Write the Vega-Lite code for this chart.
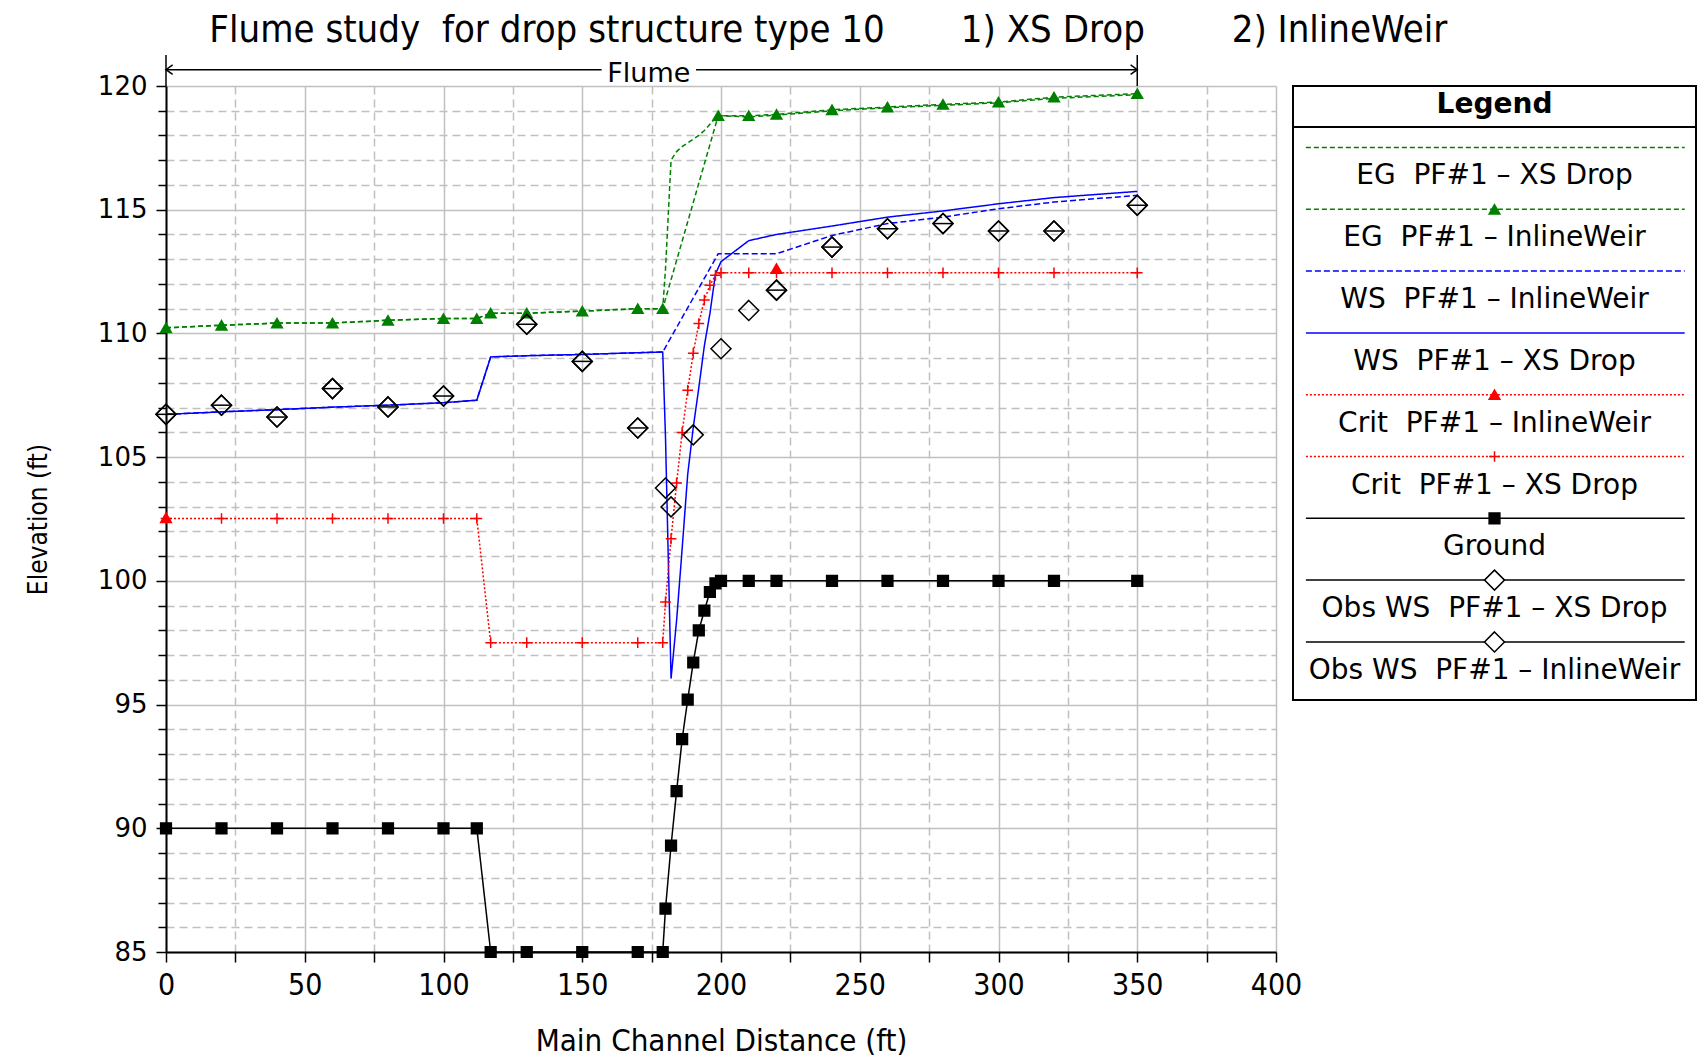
{
"$schema": "https://vega.github.io/schema/vega-lite/v6.json",
"background": "white",
"padding": {"left": 25, "top": 12, "right": 0, "bottom": 0},
"title": {"text": "Flume study\u00a0 for drop structure type 10\u00a0\u00a0\u00a0\u00a0\u00a0\u00a0 1) XS Drop\u00a0\u00a0\u00a0\u00a0\u00a0\u00a0\u00a0 2) InlineWeir", "anchor": "start", "frame": "bounds", "dx": 184, "font": "DejaVu Sans Condensed, Liberation Sans Narrow, DejaVu Sans", "fontSize": 38, "fontWeight": "normal", "color": "black", "offset": 4},
"bounds": "flush",
"spacing": 17,
"resolve": {"scale": {"x": "independent", "y": "independent"}},
"datasets": {
"pts": [
{"s":"GR","x":0,"y":90},{"s":"GR","x":20,"y":90},{"s":"GR","x":40,"y":90},{"s":"GR","x":60,"y":90},{"s":"GR","x":80,"y":90},{"s":"GR","x":100,"y":90},{"s":"GR","x":112,"y":90},{"s":"GR","x":117,"y":85},{"s":"GR","x":130,"y":85},{"s":"GR","x":150,"y":85},{"s":"GR","x":170,"y":85},{"s":"GR","x":179,"y":85},{"s":"GR","x":180,"y":86.75},{"s":"GR","x":182,"y":89.3},{"s":"GR","x":184,"y":91.5},{"s":"GR","x":186,"y":93.6},{"s":"GR","x":188,"y":95.2},{"s":"GR","x":190,"y":96.7},{"s":"GR","x":192,"y":98},{"s":"GR","x":194,"y":98.8},{"s":"GR","x":196,"y":99.55},{"s":"GR","x":198,"y":99.9},{"s":"GR","x":200,"y":100},{"s":"GR","x":210,"y":100},{"s":"GR","x":220,"y":100},{"s":"GR","x":240,"y":100},{"s":"GR","x":260,"y":100},{"s":"GR","x":280,"y":100},{"s":"GR","x":300,"y":100},{"s":"GR","x":320,"y":100},{"s":"GR","x":350,"y":100},
{"s":"WSX","x":0,"y":106.73},{"s":"WSX","x":20,"y":106.83},{"s":"WSX","x":40,"y":106.92},{"s":"WSX","x":60,"y":107.02},{"s":"WSX","x":80,"y":107.1},{"s":"WSX","x":100,"y":107.2},{"s":"WSX","x":112,"y":107.3},{"s":"WSX","x":117,"y":109.05},{"s":"WSX","x":130,"y":109.1},{"s":"WSX","x":150,"y":109.15},{"s":"WSX","x":170,"y":109.22},{"s":"WSX","x":179,"y":109.25},{"s":"WSX","x":180,"y":105.8},{"s":"WSX","x":182,"y":96.05},{"s":"WSX","x":184,"y":98.4},{"s":"WSX","x":186,"y":101.3},{"s":"WSX","x":188,"y":104.3},{"s":"WSX","x":190,"y":106.2},{"s":"WSX","x":192,"y":107.8},{"s":"WSX","x":194,"y":109.5},{"s":"WSX","x":196,"y":110.8},{"s":"WSX","x":198,"y":112.4},{"s":"WSX","x":200,"y":112.9},{"s":"WSX","x":210,"y":113.75},{"s":"WSX","x":220,"y":114.0},{"s":"WSX","x":240,"y":114.34},{"s":"WSX","x":260,"y":114.7},{"s":"WSX","x":280,"y":114.95},{"s":"WSX","x":300,"y":115.24},{"s":"WSX","x":320,"y":115.49},{"s":"WSX","x":350,"y":115.74},
{"s":"WSI","x":0,"y":106.73},{"s":"WSI","x":20,"y":106.83},{"s":"WSI","x":40,"y":106.92},{"s":"WSI","x":60,"y":107.02},{"s":"WSI","x":80,"y":107.1},{"s":"WSI","x":100,"y":107.2},{"s":"WSI","x":112,"y":107.3},{"s":"WSI","x":117,"y":109.05},{"s":"WSI","x":130,"y":109.1},{"s":"WSI","x":150,"y":109.15},{"s":"WSI","x":170,"y":109.22},{"s":"WSI","x":179,"y":109.25},{"s":"WSI","x":199,"y":113.22},{"s":"WSI","x":210,"y":113.22},{"s":"WSI","x":220,"y":113.22},{"s":"WSI","x":240,"y":113.96},{"s":"WSI","x":260,"y":114.44},{"s":"WSI","x":280,"y":114.7},{"s":"WSI","x":300,"y":115.04},{"s":"WSI","x":320,"y":115.31},{"s":"WSI","x":350,"y":115.58},
{"s":"EGI","x":0,"y":110.23},{"s":"EGI","x":20,"y":110.33},{"s":"EGI","x":40,"y":110.42},{"s":"EGI","x":60,"y":110.42},{"s":"EGI","x":80,"y":110.53},{"s":"EGI","x":100,"y":110.6},{"s":"EGI","x":112,"y":110.6},{"s":"EGI","x":117,"y":110.82},{"s":"EGI","x":130,"y":110.82},{"s":"EGI","x":150,"y":110.9},{"s":"EGI","x":170,"y":111.0},{"s":"EGI","x":179,"y":111.0},{"s":"EGI","x":199,"y":118.8},{"s":"EGI","x":210,"y":118.8},{"s":"EGI","x":220,"y":118.85},{"s":"EGI","x":240,"y":119.04},{"s":"EGI","x":260,"y":119.15},{"s":"EGI","x":280,"y":119.26},{"s":"EGI","x":300,"y":119.35},{"s":"EGI","x":320,"y":119.55},{"s":"EGI","x":350,"y":119.69},
{"s":"EGX","x":0,"y":110.23},{"s":"EGX","x":20,"y":110.33},{"s":"EGX","x":40,"y":110.42},{"s":"EGX","x":60,"y":110.42},{"s":"EGX","x":80,"y":110.53},{"s":"EGX","x":100,"y":110.6},{"s":"EGX","x":112,"y":110.6},{"s":"EGX","x":117,"y":110.82},{"s":"EGX","x":130,"y":110.82},{"s":"EGX","x":150,"y":110.9},{"s":"EGX","x":170,"y":111.0},{"s":"EGX","x":179,"y":111.0},{"s":"EGX","x":180,"y":112.6},{"s":"EGX","x":182,"y":117.0},{"s":"EGX","x":184,"y":117.35},{"s":"EGX","x":186,"y":117.55},{"s":"EGX","x":188,"y":117.7},{"s":"EGX","x":190,"y":117.85},{"s":"EGX","x":192,"y":118.0},{"s":"EGX","x":194,"y":118.2},{"s":"EGX","x":196,"y":118.45},{"s":"EGX","x":198,"y":118.7},{"s":"EGX","x":200,"y":118.8},{"s":"EGX","x":210,"y":118.75},{"s":"EGX","x":220,"y":118.82},{"s":"EGX","x":240,"y":119.0},{"s":"EGX","x":260,"y":119.12},{"s":"EGX","x":280,"y":119.22},{"s":"EGX","x":300,"y":119.32},{"s":"EGX","x":320,"y":119.5},{"s":"EGX","x":350,"y":119.65},
{"s":"CRX","x":0,"y":102.52},{"s":"CRX","x":20,"y":102.52},{"s":"CRX","x":40,"y":102.52},{"s":"CRX","x":60,"y":102.52},{"s":"CRX","x":80,"y":102.52},{"s":"CRX","x":100,"y":102.52},{"s":"CRX","x":112,"y":102.52},{"s":"CRX","x":117,"y":97.5},{"s":"CRX","x":130,"y":97.5},{"s":"CRX","x":150,"y":97.5},{"s":"CRX","x":170,"y":97.5},{"s":"CRX","x":179,"y":97.5},{"s":"CRX","x":180,"y":99.15},{"s":"CRX","x":182,"y":101.7},{"s":"CRX","x":184,"y":103.95},{"s":"CRX","x":186,"y":106.0},{"s":"CRX","x":188,"y":107.7},{"s":"CRX","x":190,"y":109.2},{"s":"CRX","x":192,"y":110.4},{"s":"CRX","x":194,"y":111.35},{"s":"CRX","x":196,"y":111.95},{"s":"CRX","x":198,"y":112.35},{"s":"CRX","x":200,"y":112.45},{"s":"CRX","x":210,"y":112.45},{"s":"CRX","x":220,"y":112.45},{"s":"CRX","x":240,"y":112.45},{"s":"CRX","x":260,"y":112.45},{"s":"CRX","x":280,"y":112.45},{"s":"CRX","x":300,"y":112.45},{"s":"CRX","x":320,"y":112.45},{"s":"CRX","x":350,"y":112.45},
{"s":"CRI","x":0,"y":102.55},{"s":"CRI","x":220,"y":112.62},
{"s":"OBX","x":0,"y":106.73},{"s":"OBX","x":20,"y":107.1},{"s":"OBX","x":40,"y":106.62},{"s":"OBX","x":60,"y":107.77},{"s":"OBX","x":80,"y":107.03},{"s":"OBX","x":100,"y":107.47},{"s":"OBX","x":130,"y":110.37},{"s":"OBX","x":150,"y":108.87},{"s":"OBX","x":170,"y":106.18},{"s":"OBX","x":180,"y":103.75},{"s":"OBX","x":182,"y":102.99},{"s":"OBX","x":190,"y":105.9},{"s":"OBX","x":200,"y":109.38},{"s":"OBX","x":210,"y":110.93},{"s":"OBX","x":220,"y":111.75},{"s":"OBX","x":240,"y":113.49},{"s":"OBX","x":260,"y":114.23},{"s":"OBX","x":280,"y":114.44},{"s":"OBX","x":300,"y":114.14},{"s":"OBX","x":320,"y":114.14},{"s":"OBX","x":350,"y":115.18},
{"s":"OBI","x":0,"y":106.73},{"s":"OBI","x":20,"y":107.1},{"s":"OBI","x":40,"y":106.62},{"s":"OBI","x":60,"y":107.77},{"s":"OBI","x":80,"y":107.03},{"s":"OBI","x":100,"y":107.47},{"s":"OBI","x":130,"y":110.37},{"s":"OBI","x":150,"y":108.87},{"s":"OBI","x":170,"y":106.18},{"s":"OBI","x":220,"y":111.75},{"s":"OBI","x":240,"y":113.49},{"s":"OBI","x":260,"y":114.23},{"s":"OBI","x":280,"y":114.44},{"s":"OBI","x":300,"y":114.14},{"s":"OBI","x":320,"y":114.14},{"s":"OBI","x":350,"y":115.18}
],
"leg": [
{"s":"EGX","label":"EG\u00a0 PF#1 – XS Drop","k":0},
{"s":"EGI","label":"EG\u00a0 PF#1 – InlineWeir","k":1},
{"s":"WSI","label":"WS\u00a0 PF#1 – InlineWeir","k":2},
{"s":"WSX","label":"WS\u00a0 PF#1 – XS Drop","k":3},
{"s":"CRI","label":"Crit\u00a0 PF#1 – InlineWeir","k":4},
{"s":"CRX","label":"Crit\u00a0 PF#1 – XS Drop","k":5},
{"s":"GR","label":"Ground","k":6},
{"s":"OBX","label":"Obs WS\u00a0 PF#1 – XS Drop","k":7},
{"s":"OBI","label":"Obs WS\u00a0 PF#1 – InlineWeir","k":8}
]
},
"hconcat": [
{
"width": 1110, "height": 866,
"view": {"stroke": null},
"data": {"name": "pts"},
"resolve": {"axis": {"x": "independent", "y": "independent"}},
"layer": [
{
"transform": [{"filter": {"field": "s", "oneOf": ["EGX","EGI","WSI","WSX","CRX","GR"]}}],
"mark": {"type": "line", "strokeWidth": 1.5},
"encoding": {
"x": {"field": "x", "type": "quantitative", "scale": {"domain": [0,400], "nice": false, "zero": false},
 "axis": {"orient": "bottom", "values": [0,50,100,150,200,250,300,350,400], "grid": true, "gridColor": "#c0c0c0", "gridWidth": 1.5, "domainColor": "black", "domainWidth": 2, "tickColor": "black", "tickWidth": 1.5, "tickSize": 10, "labelFont": "DejaVu Sans Condensed, Liberation Sans Narrow, DejaVu Sans", "labelFontSize": 30, "labelColor": "black", "labelPadding": 8, "labelFlush": false, "labelOverlap": false, "format": "d", "title": "Main Channel Distance (ft)", "titleFont": "DejaVu Sans Condensed, Liberation Sans Narrow, DejaVu Sans", "titleFontSize": 31, "titleFontWeight": "normal", "titleColor": "black", "titlePadding": 26}},
"y": {"field": "y", "type": "quantitative", "scale": {"domain": [85,120], "nice": false, "zero": false},
 "axis": {"orient": "left", "values": [85,90,95,100,105,110,115,120], "grid": true, "gridColor": "#c0c0c0", "gridWidth": 1.5, "domainColor": "black", "domainWidth": 2, "tickColor": "black", "tickWidth": 1.5, "tickSize": 10, "labelFont": "DejaVu Sans", "labelFontSize": 26, "labelColor": "black", "labelPadding": 9, "labelFlush": false, "labelOverlap": false, "format": "d", "title": "Elevation (ft)", "titleFont": "DejaVu Sans Condensed, Liberation Sans Narrow, DejaVu Sans", "titleFontSize": 26, "titleFontWeight": "normal", "titleColor": "black", "titlePadding": 46}},
"color": {"field": "s", "type": "nominal", "legend": null, "scale": {"domain": ["EGX","EGI","WSI","WSX","CRI","CRX","GR","OBX","OBI"], "range": ["#008000","#008000","#0000ff","#0000ff","#ff0000","#ff0000","#000000","#000000","#000000"]}},
"strokeDash": {"field": "s", "type": "nominal", "legend": null, "scale": {"domain": ["EGX","EGI","WSI","WSX","CRI","CRX","GR","OBX","OBI"], "range": [[5,3],[5,3],[6,3],[1,0],[2,2],[2,2],[1,0],[1,0],[1,0]]}},
"detail": {"field": "s"}
}
},
{
"transform": [{"filter": {"field": "s", "oneOf": ["EGI","CRI","CRX","GR"]}}],
"mark": {"type": "point", "strokeWidth": 1.5, "opacity": 1, "size": 115},
"encoding": {
"x": {"field": "x", "type": "quantitative", "scale": {"domain": [0,400], "nice": false, "zero": false},
 "axis": {"orient": "bottom", "values": [25,75,125,175,225,275,325,375], "grid": true, "gridColor": "#c0c0c0", "gridWidth": 1.5, "gridDash": [8,5], "domain": false, "tickColor": "black", "tickWidth": 1.5, "tickSize": 10, "labels": false, "title": null}},
"y": {"field": "y", "type": "quantitative", "scale": {"domain": [85,120], "nice": false, "zero": false},
 "axis": {"orient": "left", "values": [86,87,88,89,91,92,93,94,96,97,98,99,101,102,103,104,106,107,108,109,111,112,113,114,116,117,118,119], "grid": true, "gridColor": "#c0c0c0", "gridWidth": 1.5, "gridDash": [8,5], "domain": false, "tickColor": "black", "tickWidth": 1.5, "tickSize": 8, "labels": false, "title": null}},
"shape": {"field": "s", "type": "nominal", "legend": null, "scale": {"domain": ["EGI","CRI","CRX","GR"], "range": ["triangle-up","triangle-up","M-1,0L1,0M0,-1L0,1","square"]}},
"fill": {"field": "s", "type": "nominal", "legend": null, "scale": {"domain": ["EGI","CRI","CRX","GR"], "range": ["#008000","#ff0000","transparent","#000000"]}},
"stroke": {"field": "s", "type": "nominal", "legend": null, "scale": {"domain": ["EGI","CRI","CRX","GR"], "range": ["#008000","#ff0000","#ff0000","#000000"]}}
}
},
{
"transform": [{"filter": {"field": "s", "oneOf": ["OBX","OBI"]}}],
"mark": {"type": "point", "shape": "M0,-1L1,0L0,1L-1,0Z", "size": 400, "filled": false, "stroke": "black", "strokeWidth": 1.5, "opacity": 1},
"encoding": {
"x": {"field": "x", "type": "quantitative", "scale": {"domain": [0,400], "nice": false, "zero": false}, "axis": null},
"y": {"field": "y", "type": "quantitative", "scale": {"domain": [85,120], "nice": false, "zero": false}, "axis": null}
}
},
{
"transform": [{"filter": {"field": "s", "equal": "OBI"}}],
"mark": {"type": "point", "shape": "M-1,0L1,0", "size": 400, "filled": false, "stroke": "black", "strokeWidth": 1.5, "opacity": 1},
"encoding": {
"x": {"field": "x", "type": "quantitative", "scale": {"domain": [0,400], "nice": false, "zero": false}, "axis": null},
"y": {"field": "y", "type": "quantitative", "scale": {"domain": [85,120], "nice": false, "zero": false}, "axis": null}
}
},
{
"data": {"values": [{}]},
"mark": {"type": "rule", "color": "black", "strokeWidth": 1.5},
"encoding": {
"x": {"datum": 0, "type": "quantitative", "scale": {"domain": [0,400], "nice": false, "zero": false}, "axis": null},
"x2": {"datum": 157},
"y": {"datum": 120.66, "type": "quantitative", "scale": {"domain": [85,120], "nice": false, "zero": false}, "axis": null}
}
},
{
"data": {"values": [{}]},
"mark": {"type": "rule", "color": "black", "strokeWidth": 1.5},
"encoding": {
"x": {"datum": 191, "type": "quantitative", "scale": {"domain": [0,400], "nice": false, "zero": false}, "axis": null},
"x2": {"datum": 350},
"y": {"datum": 120.66, "type": "quantitative", "scale": {"domain": [85,120], "nice": false, "zero": false}, "axis": null}
}
},
{
"data": {"values": [{}]},
"mark": {"type": "rule", "color": "black", "strokeWidth": 1.5},
"encoding": {
"x": {"datum": 0, "type": "quantitative", "scale": {"domain": [0,400], "nice": false, "zero": false}, "axis": null},
"y": {"datum": 120, "type": "quantitative", "scale": {"domain": [85,120], "nice": false, "zero": false}, "axis": null},
"y2": {"datum": 121.25}
}
},
{
"data": {"values": [{}]},
"mark": {"type": "rule", "color": "black", "strokeWidth": 1.5},
"encoding": {
"x": {"datum": 350, "type": "quantitative", "scale": {"domain": [0,400], "nice": false, "zero": false}, "axis": null},
"y": {"datum": 120, "type": "quantitative", "scale": {"domain": [85,120], "nice": false, "zero": false}, "axis": null},
"y2": {"datum": 121.25}
}
},
{
"data": {"values": [{}]},
"mark": {"type": "point", "shape": "M1.4,-1L0,0L1.4,1", "size": 90, "filled": false, "stroke": "black", "strokeWidth": 1.5, "opacity": 1},
"encoding": {
"x": {"datum": 0, "type": "quantitative", "scale": {"domain": [0,400], "nice": false, "zero": false}, "axis": null},
"y": {"datum": 120.66, "type": "quantitative", "scale": {"domain": [85,120], "nice": false, "zero": false}, "axis": null}
}
},
{
"data": {"values": [{}]},
"mark": {"type": "point", "shape": "M-1.4,-1L0,0L-1.4,1", "size": 90, "filled": false, "stroke": "black", "strokeWidth": 1.5, "opacity": 1},
"encoding": {
"x": {"datum": 350, "type": "quantitative", "scale": {"domain": [0,400], "nice": false, "zero": false}, "axis": null},
"y": {"datum": 120.66, "type": "quantitative", "scale": {"domain": [85,120], "nice": false, "zero": false}, "axis": null}
}
},
{
"data": {"values": [{}]},
"mark": {"type": "text", "text": "Flume", "font": "DejaVu Sans", "fontSize": 27, "color": "black", "align": "center", "baseline": "middle"},
"encoding": {
"x": {"datum": 174, "type": "quantitative", "scale": {"domain": [0,400], "nice": false, "zero": false}, "axis": null},
"y": {"datum": 120.47, "type": "quantitative", "scale": {"domain": [85,120], "nice": false, "zero": false}, "axis": null}
}
}
]
},
{
"width": 403, "height": 614,
"view": {"stroke": "black", "strokeWidth": 2},
"data": {"name": "leg"},
"layer": [
{
"mark": {"type": "rule", "strokeWidth": 1.5},
"encoding": {
"x": {"datum": 0.032, "type": "quantitative", "scale": {"domain": [0,1], "nice": false, "zero": false}, "axis": null},
"x2": {"datum": 0.972},
"y": {"field": "k", "type": "quantitative", "scale": {"domain": [-0.995, 8.94], "nice": false, "zero": false, "reverse": true}, "axis": null},
"color": {"field": "s", "type": "nominal", "legend": null, "scale": {"domain": ["EGX","EGI","WSI","WSX","CRI","CRX","GR","OBX","OBI"], "range": ["#008000","#008000","#0000ff","#0000ff","#ff0000","#ff0000","#000000","#000000","#000000"]}},
"strokeDash": {"field": "s", "type": "nominal", "legend": null, "scale": {"domain": ["EGX","EGI","WSI","WSX","CRI","CRX","GR","OBX","OBI"], "range": [[5,3],[5,3],[6,3],[1,0],[2,2],[2,2],[1,0],[1,0],[1,0]]}}
}
},
{
"transform": [{"filter": {"field": "s", "oneOf": ["EGI","CRI","CRX","GR"]}}],
"mark": {"type": "point", "strokeWidth": 1.5, "opacity": 1, "size": 115},
"encoding": {
"x": {"datum": 0.5, "type": "quantitative", "scale": {"domain": [0,1], "nice": false, "zero": false}, "axis": null},
"y": {"field": "k", "type": "quantitative", "scale": {"domain": [-0.995, 8.94], "nice": false, "zero": false, "reverse": true}, "axis": null},
"shape": {"field": "s", "type": "nominal", "legend": null, "scale": {"domain": ["EGI","CRI","CRX","GR"], "range": ["triangle-up","triangle-up","M-1,0L1,0M0,-1L0,1","square"]}},
"fill": {"field": "s", "type": "nominal", "legend": null, "scale": {"domain": ["EGI","CRI","CRX","GR"], "range": ["#008000","#ff0000","transparent","#000000"]}},
"stroke": {"field": "s", "type": "nominal", "legend": null, "scale": {"domain": ["EGI","CRI","CRX","GR"], "range": ["#008000","#ff0000","#ff0000","#000000"]}}
}
},
{
"transform": [{"filter": {"field": "s", "oneOf": ["OBX","OBI"]}}],
"mark": {"type": "point", "shape": "M0,-1L1,0L0,1L-1,0Z", "size": 400, "fill": "white", "filled": true, "stroke": "black", "strokeWidth": 1.5, "opacity": 1},
"encoding": {
"x": {"datum": 0.5, "type": "quantitative", "scale": {"domain": [0,1], "nice": false, "zero": false}, "axis": null},
"y": {"field": "k", "type": "quantitative", "scale": {"domain": [-0.995, 8.94], "nice": false, "zero": false, "reverse": true}, "axis": null}
}
},
{
"mark": {"type": "text", "dy": 29, "font": "DejaVu Sans", "fontSize": 28, "color": "black", "align": "center", "baseline": "middle"},
"encoding": {
"x": {"datum": 0.5, "type": "quantitative", "scale": {"domain": [0,1], "nice": false, "zero": false}, "axis": null},
"y": {"field": "k", "type": "quantitative", "scale": {"domain": [-0.995, 8.94], "nice": false, "zero": false, "reverse": true}, "axis": null},
"text": {"field": "label"}
}
},
{
"data": {"values": [{}]},
"mark": {"type": "text", "text": "Legend", "font": "DejaVu Sans", "fontSize": 28, "fontWeight": "bold", "color": "black", "align": "center", "baseline": "middle"},
"encoding": {
"x": {"datum": 0.5, "type": "quantitative", "scale": {"domain": [0,1], "nice": false, "zero": false}, "axis": null},
"y": {"datum": -0.688, "type": "quantitative", "scale": {"domain": [-0.995, 8.94], "nice": false, "zero": false, "reverse": true}, "axis": null}
}
},
{
"data": {"values": [{}]},
"mark": {"type": "rule", "color": "black", "strokeWidth": 2},
"encoding": {
"x": {"datum": 0, "type": "quantitative", "scale": {"domain": [0,1], "nice": false, "zero": false}, "axis": null},
"x2": {"datum": 1},
"y": {"datum": -0.332, "type": "quantitative", "scale": {"domain": [-0.995, 8.94], "nice": false, "zero": false, "reverse": true}, "axis": null}
}
}
]
}
]
}
